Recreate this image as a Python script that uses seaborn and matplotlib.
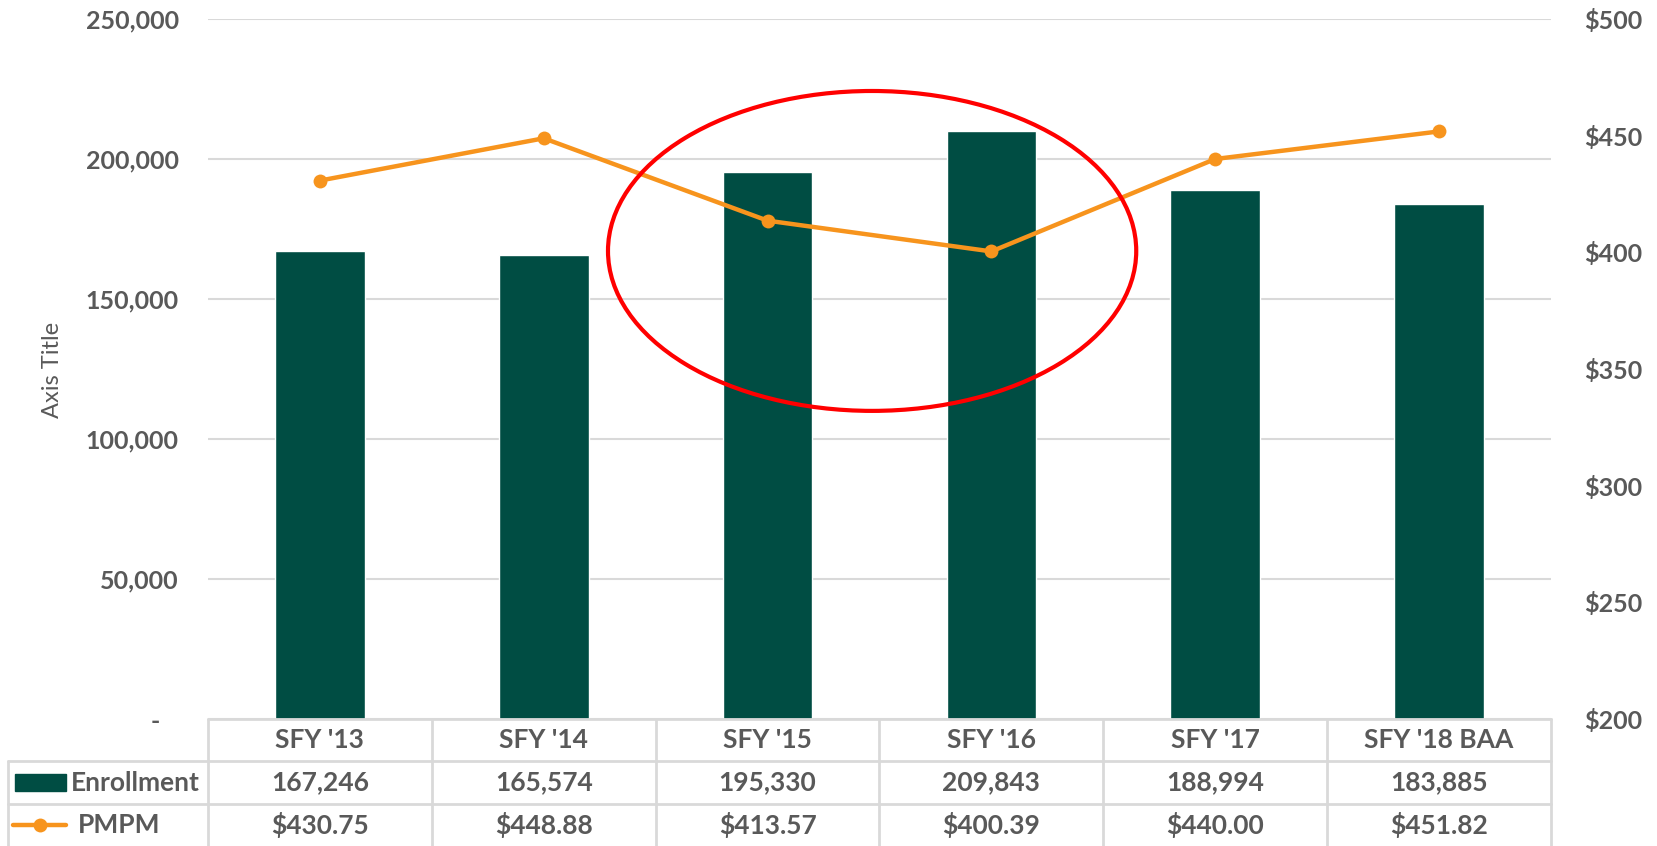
import numpy as np
import matplotlib.pyplot as plt
import seaborn as sns
from matplotlib.patches import Ellipse, Rectangle

years = ["SFY '13", "SFY '14", "SFY '15", "SFY '16", "SFY '17", "SFY '18 BAA"]
enrollment = [167246, 165574, 195330, 209843, 188994, 183885]
pmpm = [430.75, 448.88, 413.57, 400.39, 440.00, 451.82]
left_ticks = [0, 50000, 100000, 150000, 200000, 250000]
right_ticks = [200, 250, 300, 350, 400, 450, 500]

GREEN = "#004D43"
ORANGE = "#F7941D"
GRAY = "#595959"
GRID = "#D9D9D9"

sns.set_theme(style="white")
plt.rcParams['font.family'] = ['Lato', 'DejaVu Sans']

W, H = 1658, 846
fig = plt.figure(figsize=(W / 100, H / 100), dpi=100)

# plot area in pixels: left 208, right 1551, top 19, bottom 719
ax = fig.add_axes([208 / W, (H - 719) / H, 1343 / W, 700 / H])
sns.barplot(x=np.arange(len(years)), y=enrollment, color=GREEN, saturation=1,
            width=0.4, native_scale=True, ax=ax, zorder=2)
ax.set_xlim(-0.5, len(years) - 0.5)
ax.set_ylim(0, 250000)
ax.set_xticks([])
ax.set_xlabel('')
ax.set_yticks(left_ticks)
ax.set_yticklabels(['-   '] + [f'{v:,}' for v in left_ticks[1:]],
                   fontweight='bold', fontsize=18, color=GRAY)
ax.tick_params(axis='y', length=0, pad=21)
ax.yaxis.grid(True, color=GRID, lw=1.5, zorder=0)
ax.set_axisbelow(True)
for s in ax.spines.values():
    s.set_visible(False)

ax2 = ax.twinx()
sns.lineplot(x=np.arange(len(years)), y=pmpm, color=ORANGE, lw=3.2, marker='o',
             markersize=10, markeredgewidth=0, ax=ax2, zorder=3)
ax2.set_ylim(200, 500)
ax2.set_yticks(right_ticks)
ax2.set_yticklabels([f'${v}' for v in right_ticks], fontweight='bold',
                    fontsize=18, color=GRAY)
ax2.tick_params(axis='y', length=0, pad=24)
ax2.set_ylabel('')
for s in ax2.spines.values():
    s.set_visible(False)

# red highlight ellipse
ax2.add_patch(Ellipse((2.467, 400.6), 2.36, 137.1, fill=False,
                      ec='#FF0000', lw=3, zorder=5))

fig.text(53 / W, 1 - 370 / H, 'Axis Title', rotation=90, ha='center',
         va='center', fontsize=17, color=GRAY)

# data table below the chart
unit = 1343 / 6
tax = fig.add_axes([8 / W, 0, 1543 / W, 127 / H])
xmin = -0.5 - 200 / unit
tax.set_xlim(xmin, len(years) - 0.5)
tax.set_ylim(3, 0)
tax.axis('off')
lk = dict(color=GRID, lw=2, clip_on=False)
tax.plot([-0.5, len(years) - 0.5], [0, 0], **lk)
for yy in [1, 2]:
    tax.plot([xmin, len(years) - 0.5], [yy, yy], **lk)
for xx in np.arange(-0.5, len(years), 1.0):
    tax.plot([xx, xx], [0, 3], **lk)
tax.plot([xmin, xmin], [1, 3], **lk)

tk = dict(ha='center', va='center', fontsize=19, fontweight='bold', color=GRAY)
for i, yr in enumerate(years):
    tax.text(i, 0.5, yr, **tk)
    tax.text(i, 1.5, f'{enrollment[i]:,}', **tk)
    tax.text(i, 2.5, f'${pmpm[i]:,.2f}', **tk)

tax.add_patch(Rectangle((xmin + 7 / unit, 1.5 - 0.19), 51 / unit, 0.38,
                        color=GREEN, clip_on=False))
tax.text(xmin + 63 / unit, 1.5, 'Enrollment', ha='left', va='center',
         fontsize=19, fontweight='bold', color=GRAY)
tax.plot([xmin + 5 / unit, xmin + 58 / unit], [2.5, 2.5], color=ORANGE, lw=3.2,
         clip_on=False, solid_capstyle='round')
tax.plot([xmin + 32 / unit], [2.5], 'o', color=ORANGE, ms=10, mew=0, clip_on=False)
tax.text(xmin + 70 / unit, 2.5, 'PMPM', ha='left', va='center',
         fontsize=19, fontweight='bold', color=GRAY)

fig.savefig('out.png', dpi=100)
